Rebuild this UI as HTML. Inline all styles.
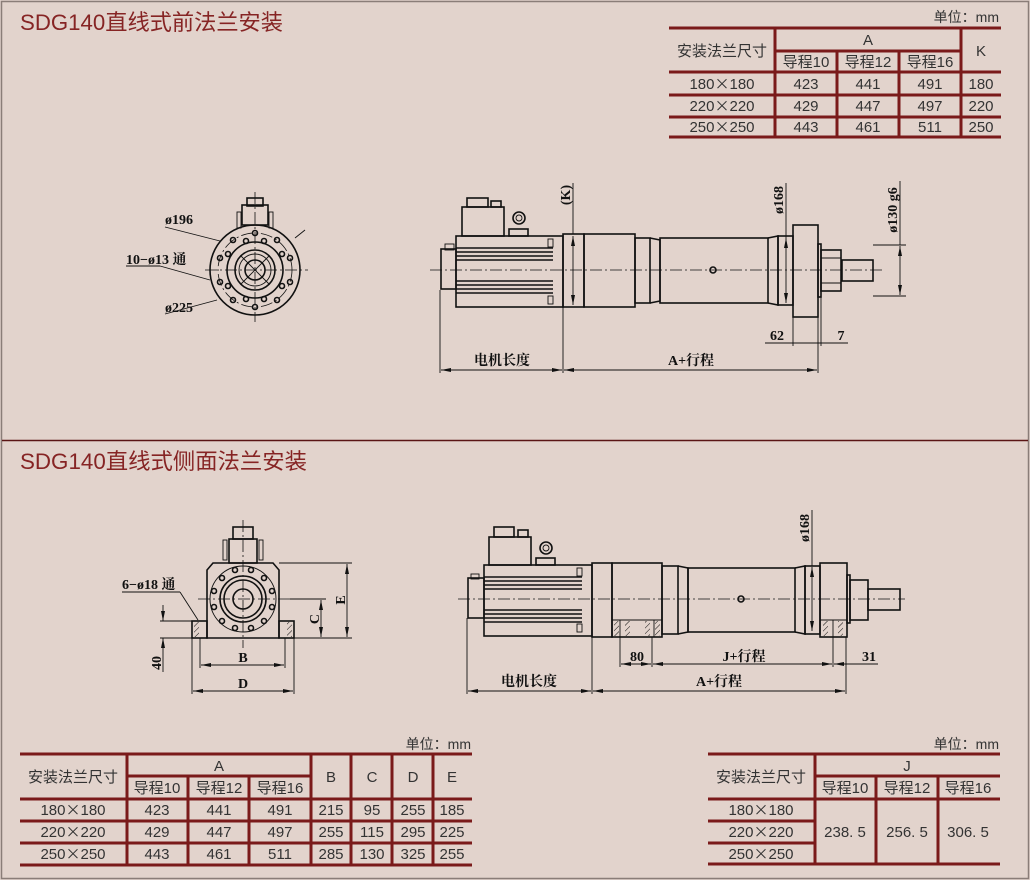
<!DOCTYPE html>
<html><head><meta charset="utf-8"><style>
html,body{margin:0;padding:0;background:#e2d3cc;}
svg{display:block;font-family:"Liberation Sans","Noto Sans CJK SC",sans-serif;}
.t{fill:#333;font-size:15px;text-anchor:middle;}
.tb{stroke:#7a1a1a;stroke-width:3;fill:none;}
.d{stroke:#111;stroke-width:1.6;fill:none;}
.dt{stroke:#111;stroke-width:0.9;fill:none;}
.c{stroke:#111;stroke-width:0.8;fill:none;stroke-dasharray:12 3 2 3;}
.lb{font-family:"Liberation Serif","Noto Serif CJK SC",serif;font-weight:bold;font-size:14px;fill:#111;}
.x{font-family:"Noto Sans CJK SC",sans-serif;}
</style></head><body>
<svg width="1030" height="880" viewBox="0 0 1030 880" xmlns="http://www.w3.org/2000/svg">
<defs>
<marker id="a" markerWidth="10" markerHeight="6" refX="10" refY="3" orient="auto-start-reverse" markerUnits="userSpaceOnUse"><path d="M0,1 L10,3 L0,5 z" fill="#111"/></marker>
<pattern id="h" width="4" height="4" patternUnits="userSpaceOnUse" patternTransform="rotate(45)"><line x1="0" y1="0" x2="0" y2="4" stroke="#111" stroke-width="1"/></pattern>
</defs>
<rect x="1.5" y="1.5" width="1027" height="877" fill="#e2d3cc" stroke="#8a7d78" stroke-width="1.5"/>
<line x1="2" y1="440.5" x2="1028" y2="440.5" stroke="#5a1515" stroke-width="1.5"/>
<text x="20" y="30" fill="#862424" font-size="22" textLength="263" lengthAdjust="spacingAndGlyphs">SDG140直线式前法兰安装</text>
<text x="20" y="469" fill="#862424" font-size="22" textLength="287" lengthAdjust="spacingAndGlyphs">SDG140直线式侧面法兰安装</text>

<!-- top right table -->
<text x="999" y="22" class="t" style="text-anchor:end;font-size:14px">单位：mm</text>
<g class="tb">
<line x1="669" y1="28" x2="1001" y2="28"/><line x1="775" y1="51" x2="961" y2="51"/>
<line x1="669" y1="72" x2="1001" y2="72"/><line x1="669" y1="95" x2="1001" y2="95"/>
<line x1="669" y1="117" x2="1001" y2="117"/><line x1="669" y1="137" x2="1001" y2="137"/>
<line x1="775" y1="28" x2="775" y2="137"/><line x1="837" y1="51" x2="837" y2="137"/>
<line x1="899" y1="51" x2="899" y2="137"/><line x1="961" y1="28" x2="961" y2="137"/>
</g>
<g class="t">
<text x="722" y="56">安装法兰尺寸</text><text x="868" y="45">A</text><text x="981" y="56">K</text>
<text x="806" y="67">导程10</text><text x="868" y="67">导程12</text><text x="930" y="67">导程16</text>
<text x="722" y="89">180<tspan class="x">×</tspan>180</text><text x="806" y="89">423</text><text x="868" y="89">441</text><text x="930" y="89">491</text><text x="981" y="89">180</text>
<text x="722" y="111">220<tspan class="x">×</tspan>220</text><text x="806" y="111">429</text><text x="868" y="111">447</text><text x="930" y="111">497</text><text x="981" y="111">220</text>
<text x="722" y="132">250<tspan class="x">×</tspan>250</text><text x="806" y="132">443</text><text x="868" y="132">461</text><text x="930" y="132">511</text><text x="981" y="132">250</text>
</g>

<!-- bottom left table -->
<text x="471" y="749" class="t" style="text-anchor:end;font-size:14px">单位：mm</text>
<g class="tb">
<line x1="20" y1="754" x2="472" y2="754"/><line x1="127" y1="776" x2="311" y2="776"/>
<line x1="20" y1="799" x2="472" y2="799"/><line x1="20" y1="821" x2="472" y2="821"/>
<line x1="20" y1="843" x2="472" y2="843"/><line x1="20" y1="865" x2="472" y2="865"/>
<line x1="127" y1="754" x2="127" y2="865"/><line x1="188" y1="776" x2="188" y2="865"/>
<line x1="249" y1="776" x2="249" y2="865"/><line x1="311" y1="754" x2="311" y2="865"/>
<line x1="351" y1="754" x2="351" y2="865"/><line x1="392" y1="754" x2="392" y2="865"/>
<line x1="433" y1="754" x2="433" y2="865"/>
</g>
<g class="t">
<text x="73" y="782">安装法兰尺寸</text><text x="219" y="771">A</text>
<text x="331" y="782">B</text><text x="372" y="782">C</text><text x="413" y="782">D</text><text x="452" y="782">E</text>
<text x="157" y="793">导程10</text><text x="219" y="793">导程12</text><text x="280" y="793">导程16</text>
<text x="73" y="815">180<tspan class="x">×</tspan>180</text><text x="157" y="815">423</text><text x="219" y="815">441</text><text x="280" y="815">491</text><text x="331" y="815">215</text><text x="372" y="815">95</text><text x="413" y="815">255</text><text x="452" y="815">185</text>
<text x="73" y="837">220<tspan class="x">×</tspan>220</text><text x="157" y="837">429</text><text x="219" y="837">447</text><text x="280" y="837">497</text><text x="331" y="837">255</text><text x="372" y="837">115</text><text x="413" y="837">295</text><text x="452" y="837">225</text>
<text x="73" y="859">250<tspan class="x">×</tspan>250</text><text x="157" y="859">443</text><text x="219" y="859">461</text><text x="280" y="859">511</text><text x="331" y="859">285</text><text x="372" y="859">130</text><text x="413" y="859">325</text><text x="452" y="859">255</text>
</g>

<!-- bottom right table -->
<text x="999" y="749" class="t" style="text-anchor:end;font-size:14px">单位：mm</text>
<g class="tb">
<line x1="708" y1="754" x2="1000" y2="754"/><line x1="815" y1="776" x2="1000" y2="776"/>
<line x1="708" y1="799" x2="1000" y2="799"/><line x1="708" y1="821" x2="815" y2="821"/>
<line x1="708" y1="843" x2="815" y2="843"/><line x1="708" y1="864" x2="1000" y2="864"/>
<line x1="815" y1="754" x2="815" y2="864"/><line x1="876" y1="776" x2="876" y2="864"/>
<line x1="938" y1="776" x2="938" y2="864"/>
</g>
<g class="t">
<text x="761" y="782">安装法兰尺寸</text><text x="907" y="771">J</text>
<text x="845" y="793">导程10</text><text x="907" y="793">导程12</text><text x="968" y="793">导程16</text>
<text x="761" y="815">180<tspan class="x">×</tspan>180</text><text x="761" y="837">220<tspan class="x">×</tspan>220</text><text x="761" y="859">250<tspan class="x">×</tspan>250</text>
<text x="845" y="837">238. 5</text><text x="907" y="837">256. 5</text><text x="968" y="837">306. 5</text>
</g>

<!-- ========== TOP FRONT VIEW (flange) ========== -->
<g>
<line class="c" x1="205" y1="270" x2="308" y2="270"/>
<line class="c" x1="255" y1="192" x2="255" y2="322"/>
<circle class="d" cx="255" cy="270" r="45"/>
<circle class="c" cx="255" cy="270" r="37"/>
<circle class="d" cx="255" cy="270" r="28"/>
<circle class="d" cx="255" cy="270" r="20"/>
<circle class="dt" cx="255" cy="270" r="16"/>
<circle class="d" cx="255" cy="270" r="10"/>
<line class="dt" x1="241" y1="256" x2="269" y2="284"/><line class="dt" x1="269" y1="256" x2="241" y2="284"/>
<g class="d" stroke-width="1.2">
<circle cx="255" cy="233" r="2.5"/><circle cx="277" cy="240" r="2.5"/><circle cx="290" cy="258" r="2.5"/><circle cx="290" cy="282" r="2.5"/><circle cx="277" cy="300" r="2.5"/><circle cx="255" cy="307" r="2.5"/><circle cx="233" cy="300" r="2.5"/><circle cx="220" cy="282" r="2.5"/><circle cx="220" cy="258" r="2.5"/><circle cx="233" cy="240" r="2.5"/>
<circle cx="246" cy="241" r="2.5"/><circle cx="264" cy="241" r="2.5"/><circle cx="282" cy="254" r="2.5"/><circle cx="282" cy="286" r="2.5"/><circle cx="264" cy="299" r="2.5"/><circle cx="246" cy="299" r="2.5"/><circle cx="228" cy="286" r="2.5"/><circle cx="228" cy="254" r="2.5"/>
</g>
<rect class="d" x="242" y="205" width="26" height="20"/>
<rect class="d" x="247" y="198" width="16" height="8"/>
<rect class="dt" x="237" y="212" width="4" height="16"/><rect class="dt" x="269" y="212" width="4" height="16"/>
<line class="dt" x1="165" y1="227" x2="220" y2="241"/>
<line class="dt" x1="126" y1="266" x2="160" y2="266"/>
<line class="dt" x1="160" y1="266" x2="210" y2="280"/>
<line class="dt" x1="165" y1="314" x2="217" y2="300"/>
<line class="dt" x1="295" y1="238" x2="305" y2="230"/>
<text class="lb" x="165" y="224">ø196</text>
<text class="lb" x="126" y="264">10−ø13 通</text>
<text class="lb" x="165" y="312">ø225</text>
</g>

<!-- ========== TOP SIDE VIEW ========== -->
<g>
<line class="c" x1="430" y1="270" x2="882" y2="270"/>
<rect class="d" x="441" y="249" width="15" height="40"/>
<rect class="dt" x="445" y="244" width="9" height="6"/>
<rect class="d" x="456" y="236" width="107" height="71"/>
<g class="d" stroke-width="1.2">
<line x1="456" y1="248" x2="553" y2="248"/><line x1="456" y1="252" x2="553" y2="252"/><line x1="456" y1="256" x2="553" y2="256"/><line x1="456" y1="260" x2="553" y2="260"/>
<line x1="456" y1="281" x2="553" y2="281"/><line x1="456" y1="285" x2="553" y2="285"/><line x1="456" y1="289" x2="553" y2="289"/><line x1="456" y1="293" x2="553" y2="293"/>
</g>
<rect class="dt" x="548" y="239" width="5" height="8"/><rect class="dt" x="548" y="296" width="5" height="8"/>
<rect class="d" x="462" y="207" width="42" height="29"/>
<rect class="d" x="467" y="198" width="21" height="9"/><rect class="d" x="491" y="201" width="10" height="6"/>
<circle class="d" cx="519" cy="218" r="6"/><circle class="dt" cx="519" cy="218" r="3"/>
<rect class="d" x="509" y="229" width="19" height="7"/>
<rect class="d" x="563" y="234" width="21" height="73"/>
<rect class="d" x="584" y="234" width="51" height="73"/>
<rect class="d" x="635" y="238" width="15" height="65"/>
<path class="d" d="M650,238 L660,240 L660,301 L650,303"/>
<rect class="d" x="660" y="238" width="108" height="65"/>
<circle class="d" cx="713" cy="270" r="3"/>
<path class="d" d="M768,238 L778,236 L778,305 L768,303"/>
<rect class="d" x="778" y="236" width="15" height="69"/>
<rect class="d" x="793" y="225" width="25" height="92"/>
<rect class="d" x="818" y="244" width="3" height="53"/>
<rect class="d" x="821" y="250" width="20" height="41"/>
<line class="dt" x1="821" y1="258" x2="841" y2="258"/><line class="dt" x1="821" y1="283" x2="841" y2="283"/>
<rect class="d" x="842" y="260" width="31" height="21"/>
<line class="dt" x1="573" y1="183" x2="573" y2="234"/>
<line class="dt" x1="573" y1="236" x2="573" y2="305" marker-start="url(#a)" marker-end="url(#a)"/>
<text class="lb" transform="translate(570,195) rotate(-90)" text-anchor="middle" font-size="13">(K)</text>
<line class="dt" x1="786" y1="183" x2="786" y2="238"/>
<line class="dt" x1="786" y1="238" x2="786" y2="303" marker-start="url(#a)" marker-end="url(#a)"/>
<text class="lb" transform="translate(783,200) rotate(-90)" text-anchor="middle">ø168</text>
<line class="dt" x1="873" y1="245" x2="906" y2="245"/><line class="dt" x1="873" y1="296" x2="906" y2="296"/>
<line class="dt" x1="900" y1="181" x2="900" y2="245"/>
<line class="dt" x1="900" y1="246" x2="900" y2="295" marker-start="url(#a)" marker-end="url(#a)"/>
<text class="lb" transform="translate(897,210) rotate(-90)" text-anchor="middle">ø130 g6</text>
<line class="dt" x1="440" y1="290" x2="440" y2="373"/>
<line class="dt" x1="563" y1="307" x2="563" y2="373"/>
<line class="dt" x1="818" y1="317" x2="818" y2="373"/>
<line class="dt" x1="793" y1="317" x2="793" y2="346"/>
<line class="dt" x1="821" y1="297" x2="821" y2="346"/>
<line class="dt" x1="441" y1="370" x2="562" y2="370" marker-start="url(#a)" marker-end="url(#a)"/>
<line class="dt" x1="564" y1="370" x2="817" y2="370" marker-start="url(#a)" marker-end="url(#a)"/>
<line class="dt" x1="765" y1="343" x2="848" y2="343"/>
<text class="lb" x="502" y="365" text-anchor="middle">电机长度</text>
<text class="lb" x="691" y="365" text-anchor="middle">A+行程</text>
<text class="lb" x="777" y="340" text-anchor="middle">62</text>
<text class="lb" x="841" y="340" text-anchor="middle">7</text>
</g>

<!-- ========== BOTTOM FRONT VIEW ========== -->
<g>
<path class="d" d="M213,563 L273,563 L279,570 L279,638 L207,638 L207,570 Z"/>
<rect class="d" x="192" y="621" width="15" height="17"/><rect x="194" y="622" width="5" height="15" fill="url(#h)"/>
<rect class="d" x="279" y="621" width="15" height="17"/><rect x="287" y="622" width="5" height="15" fill="url(#h)"/>
<circle class="dt" cx="243" cy="599" r="33"/>
<circle class="d" cx="243" cy="599" r="23"/>
<circle class="d" cx="243" cy="599" r="19"/>
<circle class="d" cx="243" cy="599" r="10"/>
<g class="d" stroke-width="1.2">
<circle cx="235" cy="570" r="2.5"/><circle cx="251" cy="570" r="2.5"/><circle cx="264" cy="578" r="2.5"/><circle cx="272" cy="591" r="2.5"/><circle cx="272" cy="607" r="2.5"/><circle cx="264" cy="621" r="2.5"/><circle cx="251" cy="628" r="2.5"/><circle cx="235" cy="628" r="2.5"/><circle cx="222" cy="621" r="2.5"/><circle cx="214" cy="607" r="2.5"/><circle cx="214" cy="591" r="2.5"/><circle cx="222" cy="578" r="2.5"/>
</g>
<rect class="d" x="229" y="539" width="28" height="24"/>
<rect class="d" x="233" y="527" width="20" height="12"/>
<rect class="dt" x="223" y="540" width="4" height="20"/><rect class="dt" x="259" y="540" width="4" height="20"/>
<line class="c" x1="243" y1="520" x2="243" y2="648"/>
<line class="c" x1="198" y1="599" x2="290" y2="599"/>
<line class="dt" x1="279" y1="563" x2="352" y2="563"/>
<line class="dt" x1="290" y1="599" x2="326" y2="599"/>
<line class="dt" x1="294" y1="638" x2="352" y2="638"/>
<line class="dt" x1="347" y1="564" x2="347" y2="637" marker-start="url(#a)" marker-end="url(#a)"/>
<line class="dt" x1="321" y1="600" x2="321" y2="637" marker-start="url(#a)" marker-end="url(#a)"/>
<text class="lb" transform="translate(345,600) rotate(-90)" text-anchor="middle">E</text>
<text class="lb" transform="translate(319,619) rotate(-90)" text-anchor="middle">C</text>
<line class="dt" x1="160" y1="621" x2="192" y2="621"/><line class="dt" x1="160" y1="638" x2="192" y2="638"/>
<line class="dt" x1="163" y1="605" x2="163" y2="621" marker-end="url(#a)"/>
<line class="dt" x1="163" y1="654" x2="163" y2="638" marker-end="url(#a)"/>
<line class="dt" x1="163" y1="654" x2="163" y2="672"/>
<text class="lb" transform="translate(161,663) rotate(-90)" text-anchor="middle">40</text>
<line class="dt" x1="200" y1="638" x2="200" y2="668"/><line class="dt" x1="285" y1="638" x2="285" y2="668"/>
<line class="dt" x1="192" y1="638" x2="192" y2="694"/><line class="dt" x1="294" y1="638" x2="294" y2="694"/>
<line class="dt" x1="201" y1="665" x2="284" y2="665" marker-start="url(#a)" marker-end="url(#a)"/>
<line class="dt" x1="193" y1="691" x2="293" y2="691" marker-start="url(#a)" marker-end="url(#a)"/>
<text class="lb" x="243" y="662" text-anchor="middle">B</text>
<text class="lb" x="243" y="688" text-anchor="middle">D</text>
<line class="dt" x1="122" y1="592" x2="180" y2="592"/>
<line class="dt" x1="180" y1="592" x2="198" y2="620"/>
<text class="lb" x="122" y="589">6−ø18 通</text>
</g>

<!-- ========== BOTTOM SIDE VIEW ========== -->
<g>
<line class="c" x1="458" y1="599" x2="905" y2="599"/>
<rect class="d" x="468" y="578" width="16" height="40"/>
<rect class="dt" x="471" y="574" width="8" height="5"/>
<rect class="d" x="484" y="565" width="108" height="71"/>
<g class="d" stroke-width="1.2">
<line x1="484" y1="577" x2="582" y2="577"/><line x1="484" y1="581" x2="582" y2="581"/><line x1="484" y1="585" x2="582" y2="585"/><line x1="484" y1="589" x2="582" y2="589"/>
<line x1="484" y1="610" x2="582" y2="610"/><line x1="484" y1="614" x2="582" y2="614"/><line x1="484" y1="618" x2="582" y2="618"/><line x1="484" y1="622" x2="582" y2="622"/>
</g>
<rect class="dt" x="577" y="568" width="5" height="8"/><rect class="dt" x="577" y="624" width="5" height="8"/>
<rect class="d" x="489" y="537" width="42" height="28"/>
<rect class="d" x="494" y="527" width="20" height="10"/><rect class="d" x="518" y="530" width="10" height="7"/>
<circle class="d" cx="546" cy="548" r="6"/><circle class="dt" cx="546" cy="548" r="3"/>
<rect class="d" x="536" y="558" width="19" height="7"/>
<rect class="d" x="592" y="563" width="20" height="74"/>
<rect class="d" x="612" y="563" width="50" height="74"/>
<line class="dt" x1="612" y1="620" x2="662" y2="620"/>
<rect x="614" y="621" width="5" height="15" fill="url(#h)"/><rect x="625" y="621" width="5" height="15" fill="url(#h)"/>
<rect x="645" y="621" width="5" height="15" fill="url(#h)"/><rect x="655" y="621" width="5" height="15" fill="url(#h)"/>
<line class="dt" x1="620" y1="620" x2="620" y2="637"/><line class="dt" x1="654" y1="620" x2="654" y2="637"/>
<rect class="d" x="662" y="566" width="16" height="68"/>
<path class="d" d="M678,566 L688,568 L688,632 L678,634"/>
<rect class="d" x="688" y="568" width="107" height="64"/>
<circle class="d" cx="741" cy="599" r="3"/>
<path class="d" d="M795,568 L805,566 L805,634 L795,632"/>
<rect class="d" x="805" y="566" width="15" height="68"/>
<rect class="d" x="820" y="563" width="27" height="74"/>
<line class="dt" x1="820" y1="620" x2="847" y2="620"/>
<rect x="823" y="621" width="5" height="15" fill="url(#h)"/><rect x="838" y="621" width="5" height="15" fill="url(#h)"/>
<line class="dt" x1="833" y1="620" x2="833" y2="667"/>
<rect class="d" x="847" y="575" width="3" height="48"/>
<rect class="d" x="850" y="580" width="18" height="40"/>
<rect class="d" x="868" y="589" width="32" height="21"/>
<line class="dt" x1="812" y1="510" x2="812" y2="566"/>
<line class="dt" x1="812" y1="567" x2="812" y2="631" marker-start="url(#a)" marker-end="url(#a)"/>
<text class="lb" transform="translate(809,528) rotate(-90)" text-anchor="middle">ø168</text>
<line class="dt" x1="620" y1="637" x2="620" y2="667"/><line class="dt" x1="652" y1="637" x2="652" y2="667"/>
<line class="dt" x1="621" y1="664" x2="651" y2="664" marker-start="url(#a)" marker-end="url(#a)"/>
<line class="dt" x1="653" y1="664" x2="832" y2="664" marker-start="url(#a)" marker-end="url(#a)"/>
<line class="dt" x1="834" y1="664" x2="878" y2="664" marker-start="url(#a)"/>
<line class="dt" x1="467" y1="618" x2="467" y2="694"/><line class="dt" x1="592" y1="637" x2="592" y2="694"/><line class="dt" x1="846" y1="637" x2="846" y2="694"/>
<line class="dt" x1="468" y1="691" x2="591" y2="691" marker-start="url(#a)" marker-end="url(#a)"/>
<line class="dt" x1="593" y1="691" x2="845" y2="691" marker-start="url(#a)" marker-end="url(#a)"/>
<text class="lb" x="637" y="661" text-anchor="middle">80</text>
<text class="lb" x="744" y="661" text-anchor="middle">J+行程</text>
<text class="lb" x="869" y="661" text-anchor="middle">31</text>
<text class="lb" x="529" y="686" text-anchor="middle">电机长度</text>
<text class="lb" x="719" y="686" text-anchor="middle">A+行程</text>
</g>
</svg>
</body></html>
